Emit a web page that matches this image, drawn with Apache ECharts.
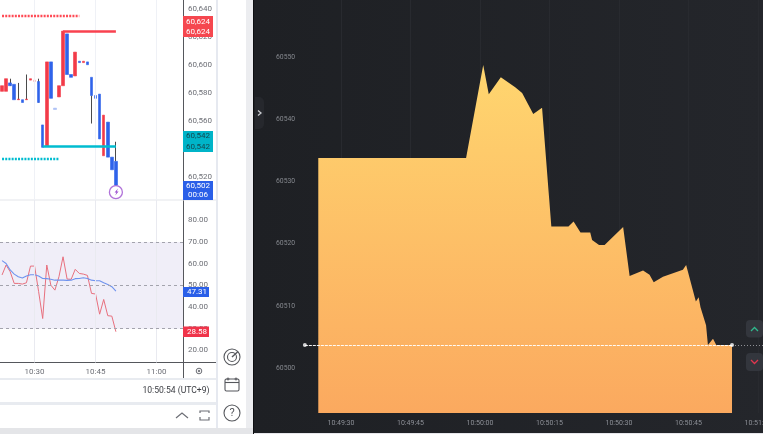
<!DOCTYPE html>
<html><head><meta charset="utf-8">
<style>html,body{margin:0;padding:0;background:#fff}#c{width:763px;height:434px}</style>
<script src="https://cdn.jsdelivr.net/npm/echarts@6/dist/echarts.min.js"></script>
</head><body><div id="c"></div>
<script>
var minutes=['10:22','10:23','10:24','10:25','10:26','10:27','10:28','10:29','10:30','10:31','10:32','10:33','10:34','10:35','10:36','10:37','10:38','10:39','10:40','10:41','10:42','10:43','10:44','10:45','10:46','10:47','10:48','10:49','10:50','10:51','10:52','10:53','10:54','10:55','10:56','10:57','10:58','10:59','11:00','11:01','11:02','11:03','11:04','11:05','11:06'];
var timeTicks=['10:30','10:45','11:00'];
var opens =[60581,60581,60587,60586,60575,60575,60575,60589,60588,60588,60557,60542,60602,60569,60577,60585,60622,60593,60592,60602.5,60601.5,60602,60591,60578,60579,60535,60559,60534,60531];
var closes=[60585,60590,60585,60575,60575.5,60573,60575.5,60590,60589,60573,60541,60602,60576,60568,60585,60624,60593,60591,60609,60601.5,60602.5,60600,60578,60576,60547,60564,60534,60525,60514];
var wickHighs=[null,null,60590,null,60587,null,60593,null,null,60590,null,null,null,null,null,null,null,null,null,null,null,null,60578,60576,null,null,null,null,60545];
var wickLows =[null,null,60585,null,60575,null,60575,null,null,60573,null,null,null,null,null,null,null,null,null,null,null,null,60558,60559,null,null,null,null,60531];
var priceTicks=[60520,60540,60560,60580,60600,60620,60640];
var rsiValues=[54.8,59.4,56.3,50.9,50.9,50.6,51.2,58.9,58.9,47.1,34.7,59.4,50.1,47.8,54,63.2,52.9,52.8,57.4,55.5,55.2,54.6,46.3,46,36.7,43.5,36,35.8,28.6];
var rsiAverage=[61.4,60.1,57.1,55.2,54,53.4,54.3,54.9,54.9,54.3,53.2,53.1,52.8,52.4,52.4,52.4,52.3,52.4,53.1,53.2,53.5,53.2,52.4,52.1,52.1,51.2,50.4,49.4,47.3];
var rsiTicks=[20,30,40,50,60,70,80];
var areaSeconds=[25.1,57,60.7,61.9,64.5,67.6,69.1,71.5,73.4,75.4,79.1,80.2,81.7,83.8,84.2,85.7,86.9,90.9,92.3,95.2,96.6,97.5,99.5,103.8,104.5,106.6,106.8,107.2,107.6,108.8,109.2,110.3,111,114.4];
var areaPrices =[60533.8,60533.8,60548.8,60544.1,60546.8,60545.2,60544.3,60540.9,60541.9,60522.8,60522.8,60523.6,60521.8,60521.8,60520.6,60519.8,60519.8,60522.7,60514.8,60515.7,60515,60513.8,60514.7,60515.8,60516.6,60510.7,60510.7,60511.4,60509.8,60506.9,60503.7,60504.7,60503.7,60503.7];
var areaPriceTicks=[60500,60510,60520,60530,60540,60550];
var areaTimeTicks=[30,45,60,75,90,105,120];
var areaTimeLabels=['10:49:30','10:49:45','10:50:00','10:50:15','10:50:30','10:50:45','10:51:00'];
var lastPrice=60503.7, resistance=60624, support=60542, upperDots=60635, lowerDots=60532.6, signalPrice=60509;

var RED='#f23b48',BLUE='#2f63ea',DARK='#4a4a4a',FONT='Roboto,sans-serif',TICK='#6d6f76',PURPLE='#9c4fd0';
var faint={8:'#f8b6ba',13:'#a9bdf5'};
var bodies=opens.map(function(o,i){var c=closes[i];var col=faint[i]||(c>=o?RED:BLUE);
  return {value:[o,c,Math.min(o,c),Math.max(o,c)],itemStyle:{color:col,color0:col,borderColor:col,borderColor0:col}};});
var wicks=[];
wickHighs.forEach(function(h,i){if(h!==null)wicks.push([minutes[i],wickLows[i],h]);});
function comma(v){return String(v).replace(/^(\d\d)(\d{3})$/,'$1,$2');}
function txt(x,y,s,fill,size,align,font,w){return {type:'text',z:101,style:{x:x,y:y,text:s,fill:fill,fontSize:size,fontFamily:font||FONT,align:align||'center',verticalAlign:'middle',fontWeight:w||'normal'}};}
function rect(x,y,w,h,fill,r,z){return {type:'rect',z:z==null?100:z,shape:{x:x,y:y,width:w,height:h,r:r||0},style:{fill:fill}};}
function seg(x1,y1,x2,y2,col,lw,z){return {type:'line',z:z==null?100:z,shape:{x1:x1,y1:y1,x2:x2,y2:y2},style:{stroke:col,lineWidth:lw||1}};}
function poly(pts,col,lw){return {type:'polyline',z:101,shape:{points:pts},style:{stroke:col,lineWidth:lw||1.5,fill:null}};}
function circ(x,y,r,col,lw,fill){return {type:'circle',z:101,shape:{cx:x,cy:y,r:r},style:{stroke:col,lineWidth:lw||1,fill:fill||'none'}};}

var graphic=[
 {type:'rect',z:-1,shape:{x:254,y:0,width:509,height:433},style:{fill:{type:'linear',x:0,y:0,x2:1,y2:0,colorStops:[{offset:0,color:'#1e2024'},{offset:1,color:'#24262b'}]}}},
 rect(253,0,1,434,'#0f1013',0,-1),
 rect(246,0,7,434,'#ecedf0',0,-1),
 rect(254,433,509,1,'#e6e6ea',0,-1),
 rect(216,0,2,428,'#e6e9f0',0,1),
 rect(0,378,216,2,'#e8ebf0',0,1),
 rect(0,402,216,3,'#e8ebf0',0,1),
 rect(0,428,253,6,'#e4e5e8',0,1),
 seg(0,200,216,200,'#e3e5ea',1,1),
 seg(183.5,362,183.5,378,'#55575c',1,1),
 seg(183,362.5,216,362.5,'#55575c',1,1),
 txt(176,390.5,'10:50:54 (UTC+9)','#3a3c42',8.6),
 circ(199,371,2.8,'#6d6f76',1),
 circ(199,371,.8,'#6d6f76',1,'#6d6f76'),
 poly([[176,418],[182,413],[188,418]],'#6d6f76',1.2),
 poly([[200,413],[200,411],[209,411],[209,413]],'#6d6f76',1.2),
 poly([[200,417],[200,420],[209,420],[209,417]],'#6d6f76',1.2),
 circ(232,357,8,'#55575c',1.1),circ(232,357,4.5,'#55575c',1.1),
 poly([[232,357],[238,351.5]],'#55575c',1.4),
 {type:'rect',z:101,shape:{x:225,y:379,width:14,height:12,r:1.5},style:{stroke:'#55575c',lineWidth:1.1,fill:'none'}},
 seg(225,382.5,239,382.5,'#55575c',1.1,101),
 circ(228,379,1,'#55575c',1),circ(236,379,1,'#55575c',1),
 circ(232,413,8,'#55575c',1.1),txt(232,413.5,'?','#55575c',11,'center','Roboto'),
 {type:'polygon',z:101,shape:{points:[[118,188.5],[114.6,192.6],[116.4,192.6],[115.2,195.5],[118.6,191.4],[116.8,191.4]]},style:{fill:PURPLE}},
 rect(183,16,30,21,'#f5474f'),txt(198,21.5,'60,624','#fff',8),txt(198,31.5,'60,624','#fff',8),
 rect(183,131,30,21,'#00b4c8'),txt(198,136,'60,542','#14474f',8),txt(198,146.5,'60,542','#14474f',8),
 rect(183,181,30,19,'#2a5fe8'),txt(198,186,'60,502','#fff',8),txt(198,195,'00:06','#fff',8),
 rect(183,287,26,10,'#2a5fe8'),txt(197,292,'47.31','#fff',8),
 rect(183,326.5,26,10.5,'#f0344a'),txt(197,332,'28.58','#fff',8),
 {type:'rect',z:100,shape:{x:255,y:97,width:9,height:32,r:[0,5,5,0]},style:{fill:'#26282d'}},
 poly([[258,110.5],[261,113],[258,115.5]],'#c9cbd0',1.3),
 rect(746,320,17,17.5,'#33363d',4),rect(746,353,17,18,'#33363d',4),
 poly([[751,331],[754.5,327.5],[758,331]],'#2fb98d',1.3),
 poly([[751,360],[754.5,363.5],[758,360]],'#e0364f',1.3)
];

var option={
 animation:false,backgroundColor:'#fff',
 grid:[
  {left:0,top:0,width:183,height:200,outerBoundsMode:'none'},
  {left:0,top:200,width:183,height:162.5,outerBoundsMode:'none'},
  {left:255,top:0,width:508,height:413,outerBoundsMode:'none'}
 ],
 xAxis:[
  {gridIndex:0,type:'category',data:minutes,boundaryGap:true,axisLine:{show:false},axisTick:{show:false},axisLabel:{show:false},splitLine:{show:false}},
  {gridIndex:1,type:'category',data:minutes,boundaryGap:true,axisLine:{lineStyle:{color:'#55575c'}},axisTick:{show:false},splitLine:{show:false},
   axisLabel:{margin:5,fontFamily:FONT,fontSize:8,color:TICK,interval:function(i,v){return timeTicks.indexOf(v)>=0;}}},
  {gridIndex:2,type:'value',min:11.44,max:121.09,axisLine:{show:false},axisTick:{show:false,customValues:areaTimeTicks},
   splitLine:{show:true,lineStyle:{color:'#282a2f'}},
   axisLabel:{customValues:areaTimeTicks,margin:7,fontFamily:'Roboto',fontSize:7,color:'#8d9097',formatter:function(v){return areaTimeLabels[areaTimeTicks.indexOf(v)]||'';}}}
 ],
 yAxis:[
  {gridIndex:0,type:'value',position:'right',min:60503.4,max:60646.2,axisLine:{show:true,lineStyle:{color:'#55575c'}},axisTick:{show:false},splitLine:{show:false},
   axisLabel:{customValues:priceTicks,margin:5,fontFamily:FONT,fontSize:8,color:TICK,formatter:function(v){return comma(v);}}},
  {gridIndex:1,type:'value',position:'right',min:14.4,max:89.4,axisLine:{show:true,lineStyle:{color:'#55575c'}},axisTick:{show:false},splitLine:{show:false},
   axisLabel:{customValues:rsiTicks,margin:5,fontFamily:FONT,fontSize:8,color:TICK,formatter:function(v){return v.toFixed(2);}}},
  {gridIndex:2,type:'value',position:'left',min:60492.75,max:60559.26,axisLine:{show:false},axisTick:{show:false},splitLine:{show:false},
   axisLabel:{customValues:areaPriceTicks,inside:true,margin:21,fontFamily:'Roboto',fontSize:6.8,color:'#85888e',formatter:function(v){return String(v);}}}
 ],
 graphic:{elements:graphic},
 series:[
  {type:'line',name:'levels',xAxisIndex:0,yAxisIndex:0,data:[],z:1,silent:true,
   markLine:{silent:true,symbol:'none',animation:false,label:{show:false},
    data:[
     [{coord:['10:30',60503.4],lineStyle:{color:'#eff1f6',width:1,type:'solid'}},{coord:['10:30',60646.2]}],
     [{coord:['10:45',60503.4],lineStyle:{color:'#eff1f6',width:1,type:'solid'}},{coord:['10:45',60646.2]}],
     [{coord:['11:00',60503.4],lineStyle:{color:'#eff1f6',width:1,type:'solid'}},{coord:['11:00',60646.2]}],
     [{coord:['10:22',upperDots],lineStyle:{color:'#ff4a55',width:2.4,type:[2,1.2]}},{coord:['10:41',upperDots]}],
     [{coord:['10:22',lowerDots],lineStyle:{color:'#00bcd0',width:2.4,type:[2,1.2]}},{coord:['10:36',lowerDots]}],
     [{coord:['10:37',resistance],lineStyle:{color:'#f9424f',width:2.6,type:'solid'}},{coord:['10:50',resistance]}],
     [{coord:['10:32',support],lineStyle:{color:'#00bcd0',width:2.6,type:'solid'}},{coord:['10:50',support]}]
    ]}},
  {type:'custom',name:'wicks',xAxisIndex:0,yAxisIndex:0,z:2,silent:true,data:wicks,encode:{x:0,y:[1,2]},
   renderItem:function(p,api){var a=api.coord([api.value(0),api.value(1)]),b=api.coord([api.value(0),api.value(2)]);var x=Math.floor(a[0])+.5;
     return {type:'line',shape:{x1:x,y1:a[1],x2:x,y2:b[1]},style:{stroke:DARK,lineWidth:1}};}},
  {type:'candlestick',name:'price',xAxisIndex:0,yAxisIndex:0,z:3,barWidth:3,data:bodies,silent:true,itemStyle:{borderWidth:0.6}},
  {type:'scatter',name:'signal',xAxisIndex:0,yAxisIndex:0,z:5,symbol:'circle',symbolSize:13,silent:true,
   data:[['10:50',signalPrice]],itemStyle:{color:'#fff',borderColor:PURPLE,borderWidth:1.3}},
  {type:'line',name:'rsiBands',xAxisIndex:1,yAxisIndex:1,data:[],z:1,silent:true,
   markArea:{silent:true,itemStyle:{color:'#f0eef8'},data:[[{yAxis:30},{yAxis:70}]]},
   markLine:{silent:true,symbol:'none',label:{show:false},data:[
     [{coord:['10:30',14.4],lineStyle:{color:'#e9eaf0',width:1,type:'solid'}},{coord:['10:30',89.4]}],
     [{coord:['10:45',14.4],lineStyle:{color:'#e9eaf0',width:1,type:'solid'}},{coord:['10:45',89.4]}],
     [{coord:['11:00',14.4],lineStyle:{color:'#e9eaf0',width:1,type:'solid'}},{coord:['11:00',89.4]}],
     {yAxis:70,lineStyle:{color:'#a3a3ad',type:[3,3],width:1}},
     {yAxis:50,lineStyle:{color:'#a3a3ad',type:[3,3],width:1}},
     {yAxis:30,lineStyle:{color:'#a3a3ad',type:[3,3],width:1}}]}},
  {type:'line',name:'RSI',xAxisIndex:1,yAxisIndex:1,z:3,data:rsiValues,symbol:'none',lineStyle:{color:'#e8707e',width:1},silent:true},
  {type:'line',name:'RSI MA',xAxisIndex:1,yAxisIndex:1,z:3,data:rsiAverage,symbol:'none',lineStyle:{color:'#6f93ee',width:1.1},silent:true},
  {type:'line',name:'area',xAxisIndex:2,yAxisIndex:2,z:3,symbol:'none',silent:true,
   data:areaSeconds.map(function(t,i){return [t,areaPrices[i]];}),
   lineStyle:{width:0},
   areaStyle:{opacity:1,color:{type:'linear',x:0,y:0,x2:0,y2:1,colorStops:[{offset:0,color:'#ffd66f'},{offset:1,color:'#fba95f'}]}},
   markLine:{silent:true,symbol:'none',label:{show:false},z:4,data:[
     [{coord:[22.2,lastPrice],lineStyle:{color:'#fff',width:1,type:[3,1],opacity:.95}},{coord:[114.4,lastPrice]}],
     [{coord:[114.4,lastPrice],lineStyle:{color:'#8f9196',width:1,type:[1,2]}},{coord:[121.09,lastPrice]}]]}},
  {type:'scatter',name:'last',xAxisIndex:2,yAxisIndex:2,z:6,symbolSize:4,silent:true,clip:false,itemStyle:{color:'#fff'},data:[[114.4,lastPrice],[22.2,lastPrice]]}
 ]
};
var chart=echarts.init(document.getElementById('c'),null,{renderer:'canvas'});
chart.setOption(option);
</script></body></html>
